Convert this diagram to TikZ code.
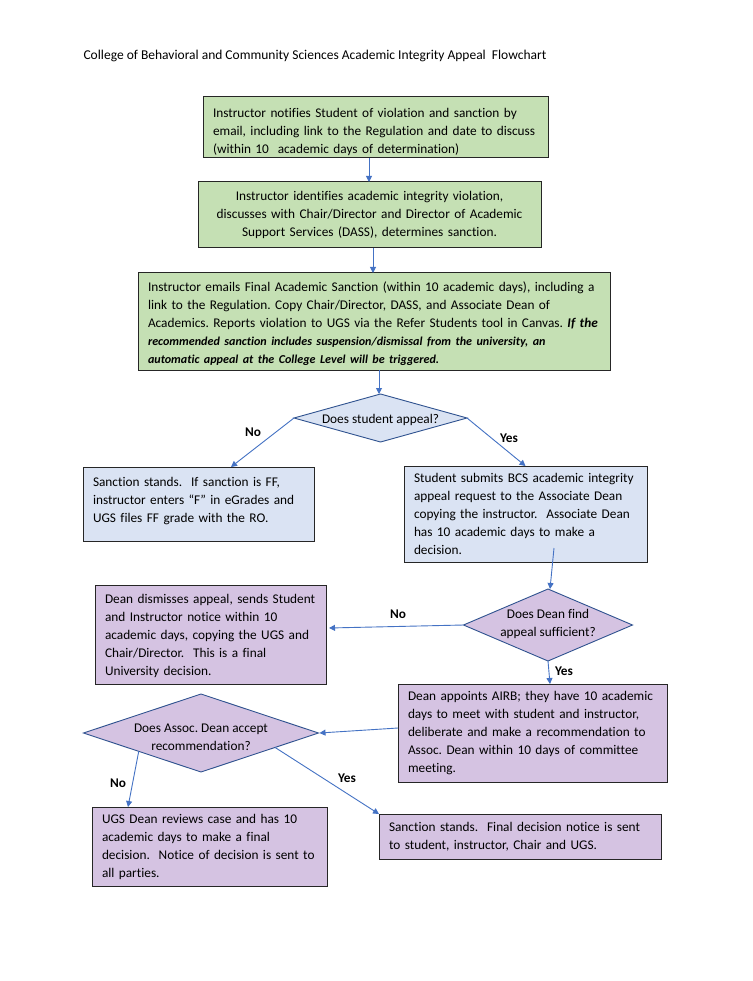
\documentclass[tikz,border=0pt]{standalone}
\usepackage{xcolor}
\usepackage{fontspec}
\setmainfont{Carlito}[Ligatures=NoCommon]
\usepackage{tikz}
\usetikzlibrary{shapes.geometric, arrows.meta, calc}
\definecolor{greenbox}{HTML}{C5E0B4}
\definecolor{bluebox}{HTML}{DAE3F3}
\definecolor{purplebox}{HTML}{D5C3E2}
\definecolor{arrowblue}{HTML}{4472C4}
\definecolor{edgeblue}{HTML}{2F528F}
\definecolor{gray3}{HTML}{262626}
\newcommand{\dtext}[2][-5pt]{\smash{\makebox[0pt]{\raisebox{#1}{\begin{tabular}{@{}c@{}}#2\end{tabular}}}}}
\frenchspacing
\hyphenpenalty=10000
\exhyphenpenalty=10000

\begin{document}
\begin{tikzpicture}[x=1pt, y=-1pt,
    txt/.style={font=\fontsize{13.3}{18}\selectfont},
    box/.style={txt, draw=gray3, line width=1pt, rectangle, inner xsep=10, inner ysep=0,
      outer sep=0, align=left},
    dia/.style={txt, draw=edgeblue, line width=0.9pt, diamond, inner sep=0, outer sep=0},
    flow/.style={draw=arrowblue, line width=0.9pt, -{Triangle[length=6pt, width=6pt]}},
    yesno/.style={font=\fontsize{13.3}{18}\selectfont\bfseries}]
  \useasboundingbox[fill=white] (0,0) rectangle (752,981);
  % Title
  \node[font=\fontsize{13.5}{18}\selectfont, anchor=west] (title) at (80,56)
    {College of Behavioral and Community Sciences Academic Integrity Appeal\ \ Flowchart};

  % Instructor steps
  \node[box, fill=greenbox, text width=325, minimum height=61, text height=18] (notify) at (375.5,127.5)
    {Instructor notifies Student of violation and sanction by\\
     email, including link to the Regulation and date to discuss\\
     (within 10\ \ academic days of determination)};
  \node[box, fill=greenbox, text width=323, minimum height=66, align=center] (identify) at (369.5,215)
    {Instructor identifies academic integrity violation,\\
     discusses with Chair/Director and Director of Academic\\
     Support Services (DASS), determines sanction.};
  \node[box, fill=greenbox, text width=452, minimum height=97, text height=15] (final) at (374,321.5)
    {Instructor emails Final Academic Sanction (within 10 academic days), including a\\
     link to the Regulation. Copy Chair/Director, DASS, and Associate Dean of\\
     Academics. Reports violation to UGS via the Refer Students tool in Canvas. \textbf{\textit{If the}}\\
     {\fontsize{12.1}{17.5}\selectfont\bfseries\itshape recommended sanction includes suspension/dismissal from the university, an}\\
     {\fontsize{12.1}{17.5}\selectfont\bfseries\itshape automatic appeal at the College Level will be triggered.}};

  % Student appeal
  \node[dia, fill=bluebox, minimum width=173, minimum height=48] (appeal) at (380.5,418)
    {\dtext{Does student appeal?}};
  \node[box, fill=bluebox, text width=211, minimum height=74] (stands) at (198.5,504)
    {Sanction stands.\ \ If sanction is FF,\\
     instructor enters “F” in eGrades and\\
     UGS files FF grade with the RO.\\[-10pt] \mbox{}};
  \node[box, fill=bluebox, text width=223, minimum height=96] (submit) at (525.5,514)
    {Student submits BCS academic integrity\\
     appeal request to the Associate Dean\\
     copying the instructor.\ \ Associate Dean\\
     has 10 academic days to make a\\
     decision.};

  % Dean decision
  \node[dia, fill=purplebox, minimum width=169, minimum height=72] (sufficient) at (548,625)
    {\dtext[-2.5pt]{Does Dean find\\ appeal sufficient?}};
  \node[box, fill=purplebox, text width=211, minimum height=99, text height=13] (dismiss) at (210.5,634.5)
    {Dean dismisses appeal, sends Student\\
     and Instructor notice within 10\\
     academic days, copying the UGS and\\
     Chair/Director.\ \ This is a final\\
     University decision.};
  \node[box, fill=purplebox, text width=249, minimum height=98] (airb) at (532.5,733)
    {Dean appoints AIRB; they have 10 academic\\
     days to meet with student and instructor,\\
     deliberate and make a recommendation to\\
     Assoc. Dean within 10 days of committee\\
     meeting.};

  % Assoc. Dean decision
  \node[dia, fill=purplebox, minimum width=235, minimum height=78] (accept) at (201,733)
    {\dtext[-8pt]{Does Assoc. Dean accept\\ recommendation?}};
  \node[box, fill=purplebox, text width=215, minimum height=79] (ugs) at (209.5,846.5)
    {UGS Dean reviews case and has 10\\
     academic days to make a final\\
     decision.\ \ Notice of decision is sent to\\
     all parties.};
  \node[box, fill=purplebox, text width=262, minimum height=45] (closed) at (520,836.5)
    {Sanction stands.\ \ Final decision notice is sent\\
     to student, instructor, Chair and UGS.};

  % Connectors
  \draw[flow] ([xshift=-6.5]notify.south) -- ([xshift=-0.5]identify.north);
  \draw[flow] ([xshift=3.5]identify.south) -- ([xshift=-1]final.north);
  \draw[flow] ([xshift=5]final.south) -- ([xshift=-1.5]appeal.north);
  \draw[flow] (appeal.west) -- ([xshift=32.5]stands.north);
  \draw[flow] (appeal.east) -- (submit.north);
  \draw[flow] ([xshift=28.5, yshift=14]submit.south) -- ([xshift=2]sufficient.north);
  \draw[flow] (sufficient.west) -- ([yshift=6.5, xshift=3]dismiss.east);
  \draw[flow] (sufficient.south) -- ([xshift=17.5]airb.north);
  \draw[flow] ([yshift=5]airb.west) -- ([xshift=1]accept.east);
  \draw[flow] ($(accept.west)!0.47!(accept.south)$) -- ([xshift=-81.5]ugs.north);
  \draw[flow] ($(accept.east)!0.37!(accept.south)$) -- (closed.north west);

  % Yes / No labels
  \node[yesno] (no1) at (253,432) {No};
  \node[yesno] (yes1) at (509,438) {Yes};
  \node[yesno] (no2) at (398,614) {No};
  \node[yesno] (yes2) at (564,671) {Yes};
  \node[yesno] (no3) at (118,783) {No};
  \node[yesno] (yes3) at (347,778) {Yes};
\end{tikzpicture}
\end{document}
